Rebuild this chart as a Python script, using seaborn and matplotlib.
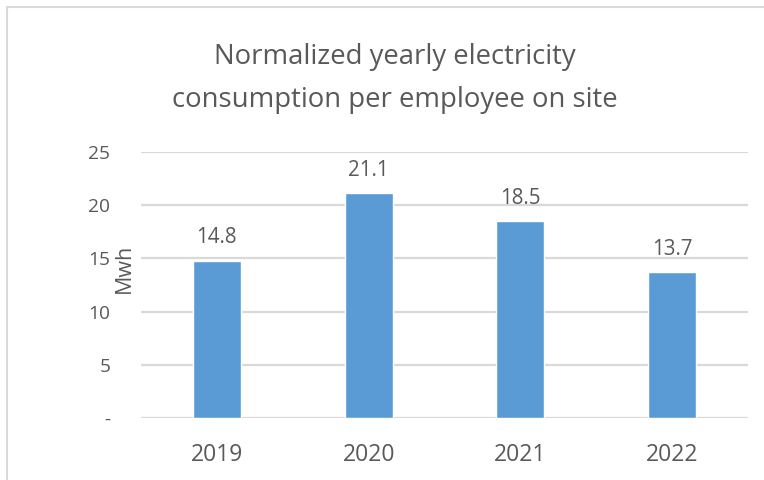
import matplotlib
matplotlib.use("Agg")
import matplotlib.pyplot as plt
import seaborn as sns
import pandas as pd
from matplotlib.patches import Rectangle

# Data
years = ["2019", "2020", "2021", "2022"]
mwh = [14.8, 21.1, 18.5, 13.7]
y_ticks = [0, 5, 10, 15, 20, 25]
y_tick_labels = ["-", "5", "10", "15", "20", "25"]

TEXT = "#595959"
BAR = "#5B9BD5"
GRID = "#D9D9D9"

sns.set_style("white")
plt.rcParams["font.family"] = ["Open Sans", "DejaVu Sans"]

df = pd.DataFrame({"year": years, "mwh": mwh})

fig = plt.figure(figsize=(7.64, 4.8), dpi=100)
ax = fig.add_axes([141 / 764, 1 - 418 / 480, (748 - 141) / 764, (418 - 152) / 480])

sns.barplot(data=df, x="year", y="mwh", color=BAR, width=0.316,
            saturation=1, ax=ax, zorder=3)

ax.set_ylim(0, 25)
ax.set_yticks(y_ticks)
ax.set_yticklabels(y_tick_labels)
ax.yaxis.grid(True, color=GRID, linewidth=1.6, zorder=0)
ax.set_axisbelow(True)
for s in ax.spines.values():
    s.set_visible(False)
ax.tick_params(axis="y", length=0, pad=22, labelsize=13.8, labelcolor=TEXT)
ax.tick_params(axis="x", length=0, pad=18, labelsize=16.5, labelcolor=TEXT)
ax.set_xlabel("")
ax.set_ylabel("Mwh", fontsize=15.5, color=TEXT)
ax.yaxis.set_label_coords(-0.01, 0.564)

for i, v in enumerate(mwh):
    ax.annotate(f"{v:.1f}", (i, v), xytext=(0, 9), textcoords="offset points",
                ha="center", va="bottom", fontsize=14.8, color=TEXT)

title_x = 395 / 764
fig.text(title_x, 1 - 57 / 480, "Normalized yearly electricity", ha="center",
         va="center", fontsize=19.8, color=TEXT)
fig.text(title_x, 1 - 100 / 480, "consumption per employee on site", ha="center",
         va="center", fontsize=19.8, color=TEXT)

# light frame around the chart area
fig.patches.append(Rectangle((7 / 764, -0.1), 1.2, 1 - 7 / 480 + 0.1,
                             transform=fig.transFigure, fill=False,
                             edgecolor="#D9D9D9", linewidth=1.5))

fig.savefig("out.png", dpi=100)
